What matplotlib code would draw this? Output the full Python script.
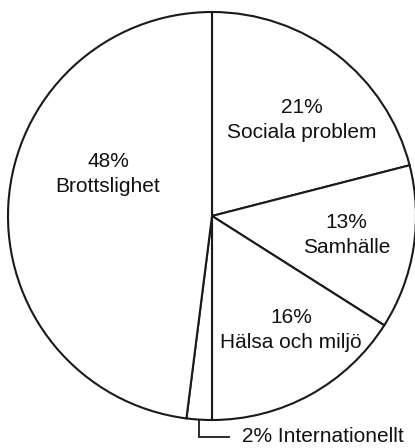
import numpy as np
import matplotlib
matplotlib.use("Agg")
import matplotlib.pyplot as plt

plt.rcParams['font.family'] = ['Liberation Sans', 'DejaVu Sans']

categories = ["Sociala problem", "Samhälle", "Hälsa och miljö", "Internationellt", "Brottslighet"]
values = [21, 13, 16, 2, 48]
# label block centres in units of the pie radius (layout only)
label_pos = [(0.44, 0.47), (0.66, -0.093), (0.387, -0.56), None, (-0.51, 0.206)]

W, H = 415, 448
fig = plt.figure(figsize=(W / 100, H / 100), dpi=100)
cx, cy, r = 212, 216, 204
ax = fig.add_axes([(cx - r) / W, (H - cy - r) / H, 2 * r / W, 2 * r / H])

wedges, _ = ax.pie(values, startangle=90, counterclock=False, radius=1,
                   colors=['white'] * len(values),
                   wedgeprops=dict(edgecolor='#1a1a1a', linewidth=1.5))
ax.set_xlim(-1, 1)
ax.set_ylim(-1, 1)
ax.axis('off')
for w in wedges:
    w.set_clip_on(False)

fs = 15
for w, cat, v, pos in zip(wedges, categories, values, label_pos):
    if pos is not None:
        ax.text(pos[0], pos[1], f"{v}%\n{cat}", ha='center', va='center',
                fontsize=fs, color='#111111', linespacing=1.42)
    else:
        mid = np.deg2rad((w.theta1 + w.theta2) / 2)
        x0, y0 = np.cos(mid), np.sin(mid)
        yk = -1.083
        ax.plot([x0, x0, 0.083], [y0, yk, yk], color='#1a1a1a', lw=1.3,
                clip_on=False, solid_joinstyle='miter')
        ax.text(0.147, yk, f"{v}% {cat}", ha='left', va='center',
                fontsize=fs, color='#111111', clip_on=False)

fig.savefig("out.png", dpi=100, facecolor='white')
